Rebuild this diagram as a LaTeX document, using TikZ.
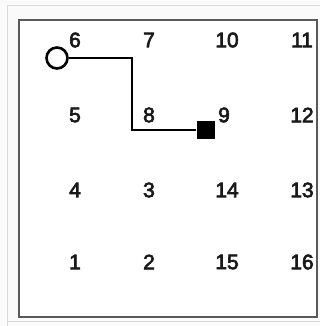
\documentclass[tikz,border=0pt]{standalone}
\usepackage{fontspec}
\setmainfont{Liberation Sans}
\newfontfamily\cellfont[FakeBold=3]{Liberation Sans}
\begin{document}
\begin{tikzpicture}[x=1pt,y=-1pt,
  num/.style={font=\cellfont\fontsize{21}{24}\selectfont, inner sep=0pt, text=black!90},
  track/.style={line width=2.6pt, black},
  startmark/.style={circle, draw=black, line width=2.6pt, fill=white, minimum size=21pt, inner sep=0pt},
  endmark/.style={rectangle, fill=black, minimum size=18pt, inner sep=0pt}]
  \useasboundingbox (0,0) rectangle (320,326);
  % outer panel
  \fill[gray!4] (0,0) rectangle (320,326);
  \draw[gray!30, line width=1pt] (7,326) -- (7,6) -- (320,6);
  \draw[gray!30, line width=1pt] (7,321) -- (320,321);
  % inner board
  \fill[white] (19,20) rectangle (316.5,316.5);
  \draw[gray!70!black, line width=2pt] (19,20) rectangle (316.5,316.5);
  % cell numbers
  \node[num] (n6)  at (75,40)   {6};
  \node[num] (n7)  at (149,40)  {7};
  \node[num] (n10) at (227,40)  {10};
  \node[num] (n11) at (302,40)  {11};
  \node[num] (n5)  at (75,115)  {5};
  \node[num] (n8)  at (149,115) {8};
  \node[num] (n9)  at (224,115) {9};
  \node[num] (n12) at (302,115) {12};
  \node[num] (n4)  at (75,190)  {4};
  \node[num] (n3)  at (149,190) {3};
  \node[num] (n14) at (227,190) {14};
  \node[num] (n13) at (302,190) {13};
  \node[num] (n1)  at (75,262)  {1};
  \node[num] (n2)  at (149,262) {2};
  \node[num] (n15) at (227,262) {15};
  \node[num] (n16) at (302,262) {16};
  % path from start to end
  \node[startmark] (start) at (57,58) {};
  \node[endmark] (goal) at (205.5,130) {};
  \coordinate (turn) at (132,58);
  \draw[track] (start.east) -- (turn) |- (goal.west);
\end{tikzpicture}
\end{document}
